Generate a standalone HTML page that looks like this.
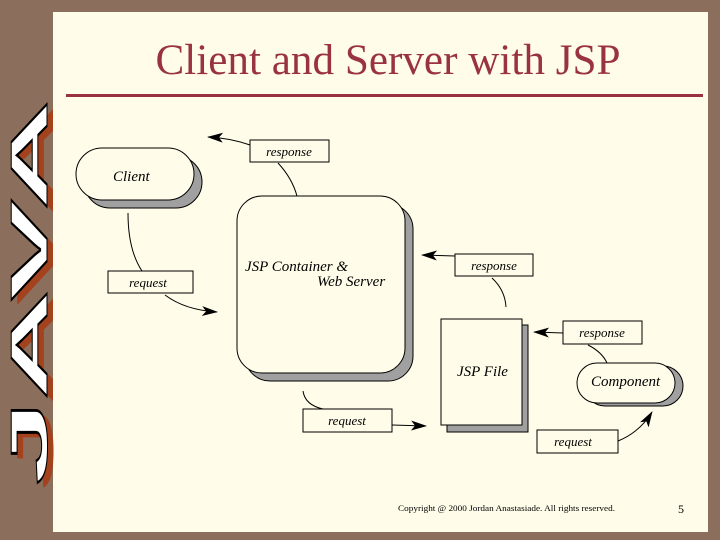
<!DOCTYPE html>
<html><head><meta charset="utf-8"><style>
html,body{margin:0;padding:0;background:#8c6e5c;}
svg{display:block}
</style></head><body>
<svg width="720" height="540" viewBox="0 0 720 540" xmlns="http://www.w3.org/2000/svg">
<defs>
<marker id="ah" markerWidth="16" markerHeight="10" refX="15" refY="5" orient="auto" markerUnits="userSpaceOnUse" viewBox="0 0 16 10">
<path d="M0,0 L16,5 L0,10 L4,5 Z" fill="#000"/></marker>
</defs>
<rect x="0" y="0" width="720" height="540" fill="#8c6e5c"/>
<rect x="53" y="12" width="655" height="520" fill="#fffde9"/>
<g font-family="Liberation Sans, sans-serif" font-weight="bold" font-size="52">
<text transform="translate(53,490) rotate(-90)" textLength="385" lengthAdjust="spacingAndGlyphs" fill="#a3421c">JAVA</text>
<text transform="translate(47,485) rotate(-90)" textLength="385" lengthAdjust="spacingAndGlyphs" fill="#fff" stroke="#000" stroke-width="1">JAVA</text>
</g>
<text x="388" y="74" text-anchor="middle" font-family="Liberation Serif, serif" font-size="43" textLength="465" lengthAdjust="spacingAndGlyphs" fill="#993344">Client and Server with JSP</text>
<rect x="66" y="94" width="637" height="3" fill="#993344"/>
<g fill="none" stroke="#000" stroke-width="1">
<rect x="84" y="156" width="118" height="52" rx="26" fill="#a0a0a0"/>
<rect x="76" y="148" width="118" height="52" rx="26" fill="#fffde9"/>
<rect x="245" y="204" width="168" height="177" rx="25" fill="#a0a0a0"/>
<rect x="237" y="196" width="168" height="177" rx="25" fill="#fffde9"/>
<rect x="447" y="325" width="81" height="107" fill="#a0a0a0"/>
<rect x="441" y="319" width="81" height="106" fill="#fffde9"/>
<rect x="585" y="366" width="98" height="40" rx="20" fill="#a0a0a0"/>
<rect x="577" y="363" width="98" height="40" rx="20" fill="#fffde9"/>
<rect x="250" y="140" width="79" height="22" fill="#fffde9"/>
<rect x="108" y="271" width="85" height="22" fill="#fffde9"/>
<rect x="455" y="254" width="78" height="22" fill="#fffde9"/>
<rect x="563" y="321" width="79" height="23" fill="#fffde9"/>
<rect x="303" y="409" width="89" height="23" fill="#fffde9"/>
<rect x="537" y="430" width="81" height="23" fill="#fffde9"/>
<path d="M250,145 Q230,138 208,137" marker-end="url(#ah)"/>
<path d="M278,163 Q292,178 297,196"/>
<path d="M128,213 Q128,250 142,271"/>
<path d="M165,295 Q185,310 217,312" marker-end="url(#ah)"/>
<path d="M455,256 L422,255" marker-end="url(#ah)"/>
<path d="M492,278 Q505,290 506,307"/>
<path d="M563,333 L534,332" marker-end="url(#ah)"/>
<path d="M588,345 Q602,352 607,363"/>
<path d="M303,391 Q305,405 323,409"/>
<path d="M392,425 L426,426" marker-end="url(#ah)"/>
<path d="M618,441 Q640,432 652,412" marker-end="url(#ah)"/>
</g>
<g font-family="Liberation Serif, serif" font-style="italic" fill="#000">
<text x="113" y="181" font-size="15">Client</text>
<text x="245" y="271" font-size="15">JSP Container &amp;</text>
<text x="317" y="286" font-size="15">Web Server</text>
<text x="457" y="376" font-size="15">JSP File</text>
<text x="591" y="386" font-size="15">Component</text>
<g font-size="13" text-anchor="middle">
<text x="289" y="156">response</text>
<text x="148" y="287">request</text>
<text x="494" y="270">response</text>
<text x="602" y="337">response</text>
<text x="347" y="425">request</text>
<text x="573" y="446">request</text>
</g>
</g>
<text x="398" y="511" font-family="Liberation Serif, serif" font-size="8" textLength="217" lengthAdjust="spacingAndGlyphs">Copyright @ 2000 Jordan Anastasiade.  All rights reserved.</text>
<text x="678" y="513" font-family="Liberation Serif, serif" font-size="12">5</text>
</svg>
</body></html>
